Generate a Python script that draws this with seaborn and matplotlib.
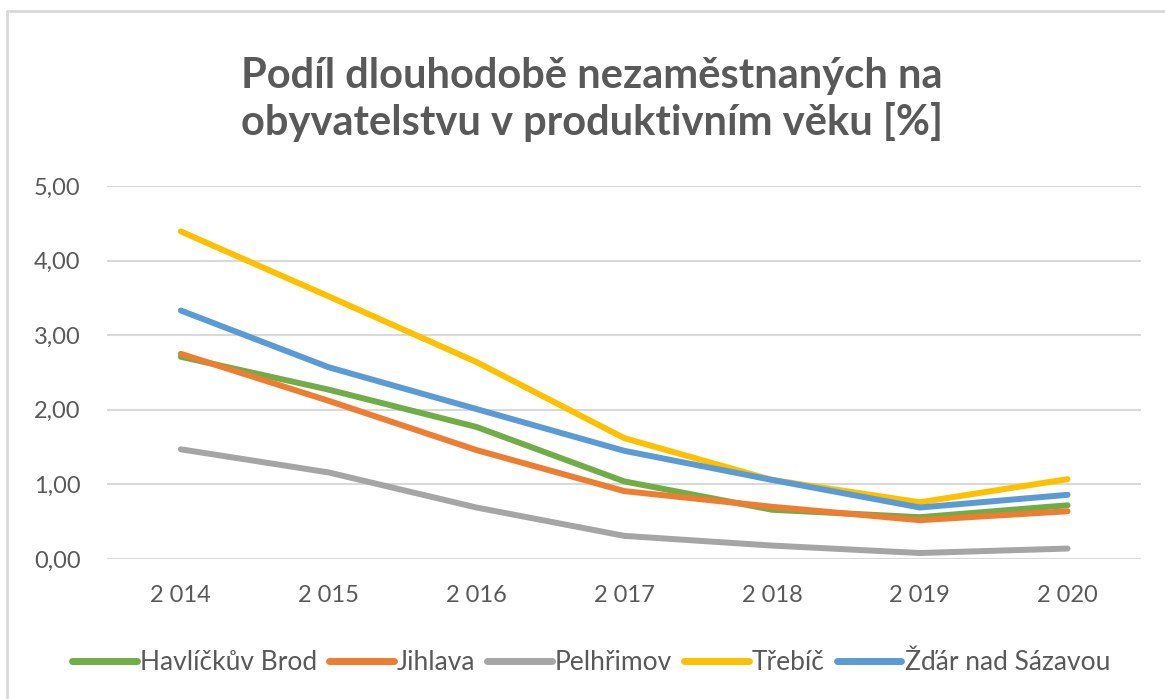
import pandas as pd
import matplotlib.pyplot as plt
from matplotlib.lines import Line2D
import seaborn as sns

# data
roky = ['2 014', '2 015', '2 016', '2 017', '2 018', '2 019', '2 020']
havlickuv_brod = [2.71, 2.27, 1.77, 1.04, 0.66, 0.56, 0.72]
jihlava = [2.75, 2.12, 1.46, 0.91, 0.70, 0.52, 0.64]
pelhrimov = [1.47, 1.16, 0.69, 0.31, 0.18, 0.08, 0.14]
trebic = [4.39, 3.52, 2.64, 1.62, 1.06, 0.76, 1.07]
zdar = [3.33, 2.57, 2.01, 1.45, 1.06, 0.69, 0.86]

okresy = ['Havlíčkův Brod', 'Jihlava', 'Pelhřimov', 'Třebíč', 'Žďár nad Sázavou']
barvy = ['#70AD47', '#ED7D31', '#A5A5A5', '#FFC000', '#5B9BD5']

df = pd.DataFrame({
    'rok': roky * 5,
    'hodnota': havlickuv_brod + jihlava + pelhrimov + trebic + zdar,
    'okres': [o for o in okresy for _ in roky],
})

sns.set_theme(style='white')
plt.rcParams['font.family'] = ['Lato', 'DejaVu Sans']
seda = '#595959'

fig = plt.figure(figsize=(11.65, 6.99), dpi=100)
ax = fig.add_axes([0.0918, 0.2003, 0.888, 0.5337])

sns.lineplot(data=df, x='rok', y='hodnota', hue='okres', hue_order=okresy,
             palette=barvy, linewidth=4.3, sort=False, ax=ax,
             solid_capstyle='round')

ax.set_xlim(-0.5, 6.5)
ax.set_ylim(0, 5)
ax.set_yticks([0, 1, 2, 3, 4, 5])
ax.set_yticklabels([f'{v:.2f}'.replace('.', ',') for v in range(6)])
ax.grid(axis='y', color='#d9d9d9', linewidth=1.5)
ax.set_axisbelow(True)
for s in ax.spines.values():
    s.set_visible(False)
ax.tick_params(axis='y', length=0, pad=19, labelsize=17, labelcolor=seda)
ax.tick_params(axis='x', length=0, pad=19, labelsize=17, labelcolor=seda)
ax.set_xlabel('')
ax.set_ylabel('')

fig.text(0.508, 0.858, 'Podíl dlouhodobě nezaměstnaných na\nobyvatelstvu v produktivním věku [%]',
         ha='center', va='center', fontsize=30, fontweight='bold', color=seda,
         linespacing=1.22)

leg = ax.legend(loc='center', bbox_to_anchor=(0.468, -0.277), ncol=5, frameon=False,
                fontsize=19, labelcolor=seda, handlelength=2.45, handletextpad=0.12,
                columnspacing=0.45, borderaxespad=0)
for h in leg.get_lines():
    h.set_linewidth(5)
    h.set_solid_capstyle('round')

# border of the chart area (top and left visible)
fig.add_artist(Line2D([7 / 1165, 1.0], [1 - 11 / 699, 1 - 11 / 699],
                      transform=fig.transFigure, color='#d9d9d9', linewidth=2))
fig.add_artist(Line2D([7 / 1165, 7 / 1165], [0, 1 - 11 / 699],
                      transform=fig.transFigure, color='#d9d9d9', linewidth=2))

fig.savefig('out.png', dpi=100)
